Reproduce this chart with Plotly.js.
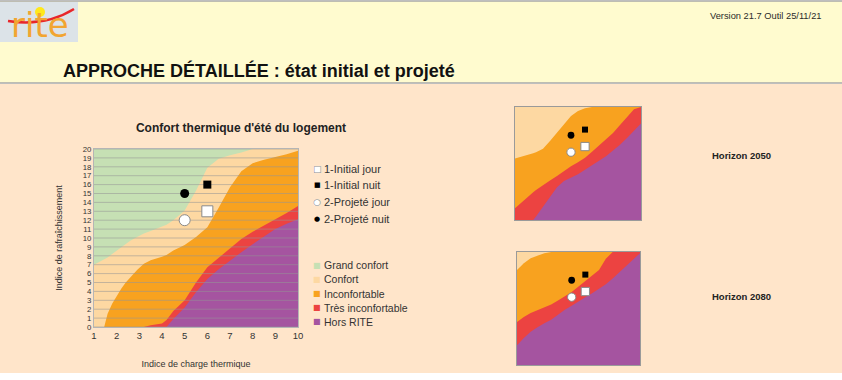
<!DOCTYPE html>
<html>
<head>
<meta charset="utf-8">
<script src="https://cdn.plot.ly/plotly-3.0.1.min.js"></script>
<style>html,body{margin:0;padding:0;background:#fff;}#chart{width:842px;height:380px;}</style>
</head>
<body>
<div id="chart"></div>
<script>
// ---------- DATA ----------
// Main chart: indice de charge thermique (x) and zone upper boundaries (indice de rafraîchissement)
const chargeX = [1,1.45,1.5,1.6,1.8,2,2.2,2.4,2.6,2.9,3.2,3.5,4,4.2,4.5,5,5.5,6,6.5,7,7.5,8,8.5,9,9.5,10];
const confortTop = [7.0,7.6,7.7,7.8,8.2,8.6,9.0,9.3,9.7,10.1,10.5,10.8,11.3,11.5,12.0,13.1,15.3,17.9,18.9,19.3,19.6,20,20,20,20,20];
const inconfortableTop = [0,0,0.5,1.5,2.6,3.5,4.3,5.0,5.6,6.4,7.1,7.5,7.9,8.1,8.6,9.2,10.1,11.2,13.4,15.7,17.5,18.4,18.8,19.1,19.4,19.8];
const tresInconfortableTop = [0,0,0,0,0,0,0,0,0,0,0,0.2,0.4,0.8,1.8,3.0,5.0,6.7,7.8,8.9,9.9,10.7,11.4,12.1,12.8,13.6];
const horsRiteTop = [0,0,0,0,0,0,0,0,0,0,0,0,0,0,0.9,2.2,3.9,5.4,6.5,7.5,8.4,9.3,10.2,11.0,11.6,12.1];

// Horizon insets
const horizonX = [1,1.5,2,2.3,2.5,3,3.5,4,4.5,5,5.5,6,6.5,7,7.5,8,8.5,9,9.5,10];
const h2050Inconfortable = [10.9,11.2,11.6,11.8,12.0,12.6,14.0,15.5,17.1,18.4,19.3,19.8,20,20,20,20,20,20,20,20];
const h2050TresInconfortable = [2.1,3.2,4.4,4.9,5.3,6.2,7.0,7.8,8.7,9.5,10.2,11.0,12.1,13.2,14.3,15.4,16.8,18.3,19.6,20];
const h2050HorsRite = [0,0,0,0,0.6,2.3,4.0,5.8,6.9,7.5,8.1,8.9,9.7,10.5,11.3,12.3,13.3,14.5,15.8,17.1];
const h2080Inconfortable = [16.8,18.0,18.9,19.2,19.4,19.8,20,20,20,20,20,20,20,20,20,20,20,20,20,20];
const h2080TresInconfortable = [7.6,8.5,9.2,9.5,9.7,10.2,10.7,11.4,12.1,12.9,13.9,14.9,15.8,16.8,18.8,20,20,20,20,20];
const h2080HorsRite = [3.5,4.8,5.9,6.4,6.7,7.4,8.0,8.9,9.8,10.5,11.3,12.0,12.7,13.5,14.3,15.3,16.4,17.6,18.7,19.8];

// Points
const pointNames = ['1-Initial jour','1-Initial nuit','2-Projeté jour','2-Projeté nuit'];
const pointCharge = [6,6,5,5];
const pointRafraichissement = [13,16,12,15];

// Zones
const zoneNames = ['Grand confort','Confort','Inconfortable','Très inconfortable','Hors RITE'];
const zoneColors = ['#C6E0B4','#FDD8A2','#F8A21F','#EC4341','#A554A0'];

const xTicks = [1,2,3,4,5,6,7,8,9,10];
const yTicks = [0,1,2,3,4,5,6,7,8,9,10,11,12,13,14,15,16,17,18,19,20];

// ---------- HELPERS ----------
const W = 842, H = 380;
const px = v => v / W;
const py = v => 1 - v / H;
const FONT = 'Arial, "Liberation Sans", sans-serif';

function area(x, y, color, xa, ya) {
  return {x: x, y: y, type: 'scatter', mode: 'lines', fill: 'tozeroy', fillcolor: color,
    line: {width: 0, color: color}, hoverinfo: 'skip', showlegend: false, xaxis: xa, yaxis: ya};
}
const markerStyles = [
  {symbol: 'square', size: 11, color: '#ffffff', line: {color: '#8a8a8a', width: 1}},
  {symbol: 'square', size: 8, color: '#000000', line: {width: 0}},
  {symbol: 'circle', size: 11, color: '#ffffff', line: {color: '#8a8a8a', width: 1}},
  {symbol: 'circle', size: 9, color: '#000000', line: {width: 0}}
];
function points(xa, ya, scale) {
  return pointNames.map((n, i) => ({
    x: [pointCharge[i]], y: [pointRafraichissement[i]], type: 'scatter', mode: 'markers', name: n,
    marker: Object.assign({}, markerStyles[i], {size: markerStyles[i].size * scale}),
    showlegend: false, hoverinfo: 'skip', xaxis: xa, yaxis: ya, cliponaxis: false
  }));
}

// ---------- TRACES ----------
const traces = [];
traces.push(area(chargeX, confortTop, zoneColors[1], 'x', 'y'));
traces.push(area(chargeX, inconfortableTop, zoneColors[2], 'x', 'y'));
traces.push(area(chargeX, tresInconfortableTop, zoneColors[3], 'x', 'y'));
traces.push(area(chargeX, horsRiteTop, zoneColors[4], 'x', 'y'));
// grid lines over the zones, from tick values
const gx = [], gy = [];
yTicks.forEach(t => { gx.push(xTicks[0], xTicks[xTicks.length - 1], null); gy.push(t, t, null); });
traces.push({x: gx, y: gy, type: 'scatter', mode: 'lines', line: {color: 'rgba(150,150,150,0.55)', width: 1},
  hoverinfo: 'skip', showlegend: false, xaxis: 'x', yaxis: 'y'});
traces.push(...points('x', 'y', 1));

traces.push(area(horizonX, h2050Inconfortable, zoneColors[2], 'x2', 'y2'));
traces.push(area(horizonX, h2050TresInconfortable, zoneColors[3], 'x2', 'y2'));
traces.push(area(horizonX, h2050HorsRite, zoneColors[4], 'x2', 'y2'));
traces.push(...points('x2', 'y2', 0.75));

traces.push(area(horizonX, h2080Inconfortable, zoneColors[2], 'x3', 'y3'));
traces.push(area(horizonX, h2080TresInconfortable, zoneColors[3], 'x3', 'y3'));
traces.push(area(horizonX, h2080HorsRite, zoneColors[4], 'x3', 'y3'));
traces.push(...points('x3', 'y3', 0.75));

// ---------- LAYOUT ----------
const insetAxis = (dom, anchor) => ({domain: dom, anchor: anchor, range: [1, 10], showline: true, mirror: true,
  linecolor: '#9a9a9a', linewidth: 1, showgrid: false, zeroline: false, showticklabels: false, ticks: '', fixedrange: true});
const insetYAxis = (dom, anchor) => ({domain: dom, anchor: anchor, range: [0, 20], showline: true, mirror: true,
  linecolor: '#9a9a9a', linewidth: 1, showgrid: false, zeroline: false, showticklabels: false, ticks: '', fixedrange: true});

const shapes = [
  {type: 'rect', xref: 'paper', yref: 'paper', x0: -0.01, x1: 1.01, y0: py(373), y1: py(84), fillcolor: '#FFE5CA', line: {width: 0}, layer: 'below'},
  {type: 'rect', xref: 'paper', yref: 'paper', x0: -0.01, x1: 1.01, y0: py(83), y1: py(1), fillcolor: '#FFFBCF', line: {color: '#a9a9a9', width: 1.5}, layer: 'below'},
  {type: 'rect', xref: 'paper', yref: 'paper', x0: px(0), x1: px(78), y0: py(42), y1: py(2), fillcolor: '#DCE3E8', line: {width: 0}, layer: 'below'},
  {type: 'path', xref: 'paper', yref: 'paper',
    path: 'M' + px(8) + ',' + py(21) + ' Q' + px(45) + ',' + py(27) + ' ' + px(74) + ',' + py(9),
    line: {color: '#E8262A', width: 2.5}, layer: 'above'},
  {type: 'circle', xref: 'paper', yref: 'paper', x0: px(35), x1: px(45), y0: py(17), y1: py(7), fillcolor: '#FFE81A', line: {width: 0}, layer: 'above'},
  // subplot backgrounds (top zone of each chart)
  {type: 'rect', xref: 'x domain', yref: 'y domain', x0: 0, x1: 1, y0: 0, y1: 1, fillcolor: zoneColors[0], line: {width: 0}, layer: 'below'},
  {type: 'rect', xref: 'x2 domain', yref: 'y2 domain', x0: 0, x1: 1, y0: 0, y1: 1, fillcolor: zoneColors[1], line: {width: 0}, layer: 'below'},
  {type: 'rect', xref: 'x3 domain', yref: 'y3 domain', x0: 0, x1: 1, y0: 0, y1: 1, fillcolor: zoneColors[1], line: {width: 0}, layer: 'below'}
];

const annotations = [
  {xref: 'paper', yref: 'paper', x: px(40), y: py(25), text: 'rite', showarrow: false, xanchor: 'center', yanchor: 'middle',
    font: {family: '"DejaVu Sans", sans-serif', size: 34, color: '#F2A531'}},
  {xref: 'paper', yref: 'paper', x: px(823), y: py(16), text: 'Version 21.7 Outil 25/11/21', showarrow: false, xanchor: 'right', yanchor: 'middle',
    font: {family: FONT, size: 9.3, color: '#2a2a2a'}},
  {xref: 'paper', yref: 'paper', x: px(61), y: py(70), text: '<b>APPROCHE DÉTAILLÉE : état initial et projeté</b>', showarrow: false, xanchor: 'left', yanchor: 'middle',
    font: {family: FONT, size: 18, color: '#111111'}},
  {xref: 'paper', yref: 'paper', x: px(741), y: py(156), text: '<b>Horizon 2050</b>', showarrow: false, xanchor: 'center', yanchor: 'middle',
    font: {family: FONT, size: 9.5, color: '#222222'}},
  {xref: 'paper', yref: 'paper', x: px(741), y: py(296), text: '<b>Horizon 2080</b>', showarrow: false, xanchor: 'center', yanchor: 'middle',
    font: {family: FONT, size: 9.5, color: '#222222'}}
];

// marker legend
const legGlyphs = [
  [['■', '#ffffff', 9], ['□', '#8a8a8a', 9]],
  [['■', '#000000', 7]],
  [['●', '#ffffff', 9], ['○', '#8a8a8a', 9]],
  [['●', '#000000', 7]]
];
pointNames.forEach((n, i) => {
  const yy = 168.5 + i * 16.8;
  legGlyphs[i].forEach(g => annotations.push({xref: 'paper', yref: 'paper', x: px(317), y: py(yy), text: g[0], showarrow: false,
    xanchor: 'center', yanchor: 'middle', font: {family: '"DejaVu Sans", sans-serif', size: g[2], color: g[1]}}));
  annotations.push({xref: 'paper', yref: 'paper', x: px(322), y: py(yy), text: n, showarrow: false, xanchor: 'left', yanchor: 'middle',
    font: {family: FONT, size: 11, color: '#333333'}});
});
// zone legend
zoneNames.forEach((n, i) => {
  const yy = 265.3 + i * 14.1;
  annotations.push({xref: 'paper', yref: 'paper', x: px(317), y: py(yy), text: '■', showarrow: false, xanchor: 'center', yanchor: 'middle',
    font: {family: '"DejaVu Sans", sans-serif', size: 8, color: zoneColors[i]}});
  annotations.push({xref: 'paper', yref: 'paper', x: px(322), y: py(yy), text: n, showarrow: false, xanchor: 'left', yanchor: 'middle',
    font: {family: FONT, size: 10.5, color: '#333333'}});
});

const layout = {
  width: W, height: H, margin: {l: 0, r: 0, t: 0, b: 0}, autosize: false,
  paper_bgcolor: '#ffffff', plot_bgcolor: 'rgba(0,0,0,0)', showlegend: false,
  font: {family: FONT, color: '#333333'},
  title: {text: '<b>Confort thermique d\'été du logement</b>', x: px(241), xanchor: 'center', y: py(128), yanchor: 'middle',
    font: {family: FONT, size: 12, color: '#222222'}},
  xaxis: {domain: [px(94), px(298)], anchor: 'y', range: [1, 10], tickvals: xTicks, ticks: '', showline: true, mirror: true,
    linecolor: '#b5b5b5', linewidth: 1, showgrid: false, zeroline: false, fixedrange: true,
    tickfont: {family: FONT, size: 9.5, color: '#333333'},
    title: {text: 'Indice de charge thermique', font: {family: FONT, size: 9, color: '#333333'}, standoff: 20}},
  yaxis: {domain: [py(327), py(149)], anchor: 'x', range: [0, 20], tickvals: yTicks, ticks: '', showline: true, mirror: true,
    linecolor: '#b5b5b5', linewidth: 1, showgrid: false, zeroline: false, fixedrange: true,
    tickfont: {family: FONT, size: 7.8, color: '#333333'},
    title: {text: 'Indice de rafraîchissement', font: {family: FONT, size: 9, color: '#333333'}, standoff: 18}},
  xaxis2: insetAxis([px(515), px(641)], 'y2'),
  yaxis2: insetYAxis([py(220), py(107)], 'x2'),
  xaxis3: insetAxis([px(517), px(640)], 'y3'),
  yaxis3: insetYAxis([py(365), py(252)], 'x3'),
  shapes: shapes,
  annotations: annotations
};

Plotly.newPlot('chart', traces, layout, {displayModeBar: false, staticPlot: true});
</script>
</body>
</html>
